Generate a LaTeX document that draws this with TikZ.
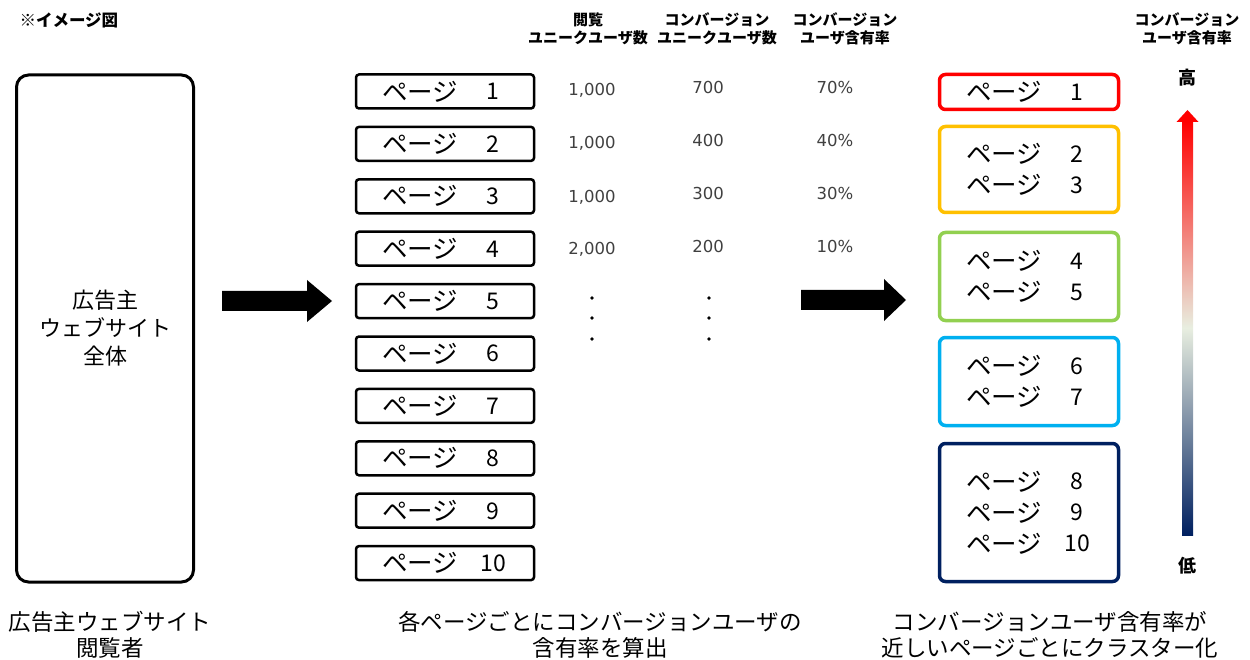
\documentclass[tikz,border=0pt]{standalone}
\usepackage{fontspec}
\setmainfont{Noto Sans CJK JP}
\newfontfamily\jp{Noto Sans CJK JP}
\newfontfamily\numfont{DejaVu Sans}
\definecolor{cRed}{HTML}{FF0000}
\definecolor{cOrange}{HTML}{FFC000}
\definecolor{cGreen}{HTML}{92D050}
\definecolor{cBlue}{HTML}{00B0F0}
\definecolor{cNavy}{HTML}{002060}
\definecolor{cMid}{RGB}{232,238,224}
\definecolor{cNum}{HTML}{404040}
\newcommand\pgl[1]{\makebox[77pt][c]{\fontsize{25.5}{31}\selectfont ページ}\hspace{19.5pt}\makebox[30pt][c]{\raisebox{1.3pt}{\fontsize{23}{31}\selectfont #1}}}
\begin{document}
\begin{tikzpicture}[x=1pt,y=-1pt,
  every node/.style={font=\jp},
  pagebox/.style={draw, line width=2.5pt, rounded corners=3pt, minimum width=178pt, minimum height=34pt, inner sep=0pt, font=\jp\fontsize{23}{23}\selectfont},
  cluster/.style={draw, line width=3.5pt, rounded corners=6pt, minimum width=179pt, inner sep=0pt, align=center, font=\jp\fontsize{23}{31}\selectfont},
  bigbox/.style={draw, line width=3pt, rounded corners=12pt, minimum width=177pt, minimum height=507pt, inner sep=0pt, align=center, font=\jp\fontsize{22}{28}\selectfont},
  hdr/.style={font=\jp\bfseries\fontsize{15}{18}\selectfont, align=center},
  num/.style={font=\numfont\fontsize{16.5}{16.5}\selectfont, text=cNum},
  captxt/.style={font=\jp\fontsize{22.5}{26}\selectfont, align=center},
  blockarrow/.style={fill=black},
]
\useasboundingbox (0,0) rectangle (1250,660);

% title
\node[anchor=west, font=\jp\bfseries\fontsize{16.5}{16.5}\selectfont] (title) at (16,20) {※イメージ図};

% left box
\node[bigbox] (site) at (105,328.5) {広告主\\ウェブサイト\\全体};

% page boxes
\foreach \i [evaluate=\i as \yy using 91.5+52.4*(\i-1)] in {1,...,10}{
  \node[pagebox] (p\i) at (445,\yy) {\pgl{\i}};
}

% headers
\node[hdr] (h1) at (588,29) {閲覧\\ユニークユーザ数};
\node[hdr] (h2) at (717,29) {コンバージョン\\ユニークユーザ数};
\node[hdr] (h3) at (845,29) {コンバージョン\\ユーザ含有率};
\node[hdr] (h4) at (1187,29) {コンバージョン\\ユーザ含有率};

% numbers
\node[num] (v11) at (592,90) {1,000};
\node[num] (v12) at (592,143) {1,000};
\node[num] (v13) at (592,197) {1,000};
\node[num] (v14) at (592,249) {2,000};
\node[num] (v21) at (708,87) {700};
\node[num] (v22) at (708,140) {400};
\node[num] (v23) at (708,193) {300};
\node[num] (v24) at (708,246) {200};
\node[num] (v31) at (835,87) {70\%};
\node[num] (v32) at (835,140) {40\%};
\node[num] (v33) at (835,193) {30\%};
\node[num] (v34) at (835,246) {10\%};
\foreach \yy in {298,318,339}{
  \fill[black] (592,\yy) circle (1.9);
  \fill[black] (709,\yy) circle (1.9);
}

% block arrows
\coordinate (a1s) at (222,301);
\coordinate (a2s) at (801,300);
\fill[blockarrow] (a1s) ++(0,-10) -- ++(85,0) -- ++(0,-11) -- ++(25,21) -- ++(-25,21) -- ++(0,-11) -- ++(-85,0) -- cycle;
\fill[blockarrow] (a2s) ++(0,-10) -- ++(83,0) -- ++(0,-11) -- ++(22,21) -- ++(-22,21) -- ++(0,-11) -- ++(-83,0) -- cycle;

% clusters
\node[cluster, draw=cRed, minimum height=35pt] (c1) at (1029,92) {\pgl{1}};
\node[cluster, draw=cOrange, minimum height=86pt] (c2) at (1029,169.5) {\pgl{2}\\\pgl{3}};
\node[cluster, draw=cGreen, minimum height=88pt] (c3) at (1029,276.5) {\pgl{4}\\\pgl{5}};
\node[cluster, draw=cBlue, minimum height=88pt] (c4) at (1029,381.5) {\pgl{6}\\\pgl{7}};
\node[cluster, draw=cNavy, minimum height=138pt] (c5) at (1029,512.5) {\pgl{8}\\\pgl{9}\\\pgl{10}};

% gradient scale
\node[font=\jp\bfseries\fontsize{18}{18}\selectfont] (hi) at (1187,78) {高};
\node[font=\jp\bfseries\fontsize{18}{18}\selectfont] (lo) at (1187,566) {低};
\shade[top color=cRed, bottom color=cNavy, middle color=cMid] (1182,121) rectangle (1193,535);
\fill[cRed] (1187.5,110) -- (1198.5,122) -- (1176.5,122) -- cycle;

% captions
\node[captxt] (k1) at (110,635) {広告主ウェブサイト\\閲覧者};
\node[captxt] (k2) at (600,635) {各ページごとにコンバージョンユーザの\\含有率を算出};
\node[captxt] (k3) at (1050,635) {コンバージョンユーザ含有率が\\近しいページごとにクラスター化};
\end{tikzpicture}
\end{document}
